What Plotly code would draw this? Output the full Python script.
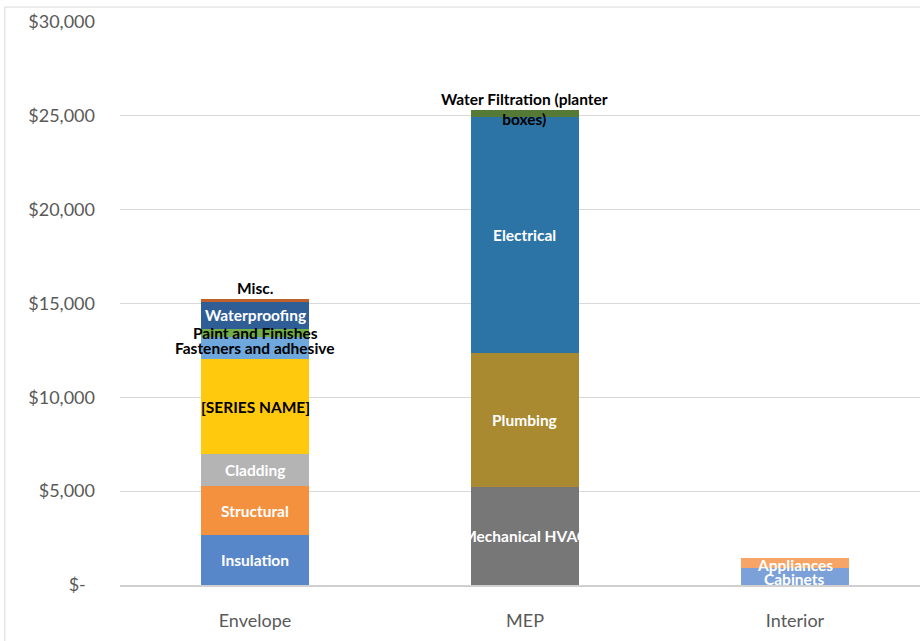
import plotly.graph_objects as go

categories = ["Envelope", "MEP", "Interior"]

series_names = [
    "Insulation", "Structural", "Cladding", "[SERIES NAME]",
    "Fasteners and adhesive", "Paint and Finishes", "Waterproofing", "Misc.",
    "Mechanical HVAC", "Plumbing", "Electrical", "Water Filtration (planter boxes)",
    "Cabinets", "Appliances",
]
series_category = [
    "Envelope", "Envelope", "Envelope", "Envelope",
    "Envelope", "Envelope", "Envelope", "Envelope",
    "MEP", "MEP", "MEP", "MEP",
    "Interior", "Interior",
]
series_values = [
    2650, 2620, 1710, 5050,
    1200, 420, 1450, 130,
    5220, 7140, 12560, 390,
    900, 560,
]
series_colors = [
    "#5787C9", "#F4913F", "#B4B4B4", "#FFC90D",
    "#6EA8DD", "#70AD47", "#2F5E97", "#C2602B",
    "#777777", "#A98A30", "#2C74A6", "#557A36",
    "#7CA1D8", "#F7A566",
]
label_colors = [
    "white", "white", "white", "black",
    "black", "black", "white", "black",
    "white", "white", "white", "black",
    "white", "white",
]
label_texts = [
    "Insulation", "Structural", "Cladding", "[SERIES NAME]",
    "Fasteners and adhesive", "Paint and Finishes", "Waterproofing", "Misc.",
    "Mechanical HVAC", "Plumbing", "Electrical", "Water Filtration (planter<br>boxes)",
    "Cabinets", "Appliances",
]
label_yshift = [0, 0, 0, 0, 0, 0, 0, 0, 0, 0, 0, 5, -2, -2]

y_ticks = [0, 5000, 10000, 15000, 20000, 25000, 30000]
y_ticktext = ["$-\u00a0\u00a0", "$5,000", "$10,000", "$15,000", "$20,000", "$25,000", "$30,000"]

fig = go.Figure()
for name, cat, val, col in zip(series_names, series_category, series_values, series_colors):
    fig.add_trace(go.Bar(
        x=[cat], y=[val], name=name, marker=dict(color=col, line=dict(width=0)),
        width=0.4, showlegend=False, hoverinfo="name+y",
    ))

# label annotations at segment centres
base = {c: 0 for c in categories}
annotations = []
for i, (cat, val) in enumerate(zip(series_category, series_values)):
    bottom = base[cat]
    top = bottom + val
    base[cat] = top
    if series_names[i] == "Misc.":
        ypos = top
        yanchor = "bottom"
    else:
        ypos = (bottom + top) / 2
        yanchor = "middle"
    ann = dict(
        x=cat, y=ypos, xref="x", yref="y", text=label_texts[i], showarrow=False,
        yanchor=yanchor, yshift=label_yshift[i],
        font=dict(family="Lato, Open Sans, sans-serif", size=15.5, weight="bold",
                  color=label_colors[i]),
    )
    if series_names[i] == "Mechanical HVAC":
        ann["width"] = 108
        ann["align"] = "center"
    annotations.append(ann)

shapes = [
    dict(type="line", xref="paper", yref="paper", x0=-0.144, x1=1.0, y0=1.0266, y1=1.0266,
         line=dict(color="#D9D9D9", width=1)),
    dict(type="line", xref="paper", yref="paper", x0=-0.144, x1=-0.144, y0=1.0266, y1=-0.11,
         line=dict(color="#D9D9D9", width=1)),
]

fig.update_layout(
    width=920, height=641,
    barmode="stack",
    plot_bgcolor="white", paper_bgcolor="white",
    margin=dict(l=120, r=0, t=22, b=56),
    annotations=annotations,
    shapes=shapes,
    bargap=0.6,
    font=dict(family="Lato, Open Sans, sans-serif", color="#595959"),
)
fig.update_xaxes(
    categoryorder="array", categoryarray=categories,
    range=[-0.5, 2.463],
    showline=True, linecolor="#D0D0D0", linewidth=1.5,
    ticks="", tickfont=dict(size=18, color="#595959"),
    ticklabelstandoff=19, showgrid=False,
)
fig.update_yaxes(
    range=[0, 30000], tickvals=y_ticks, ticktext=y_ticktext,
    showgrid=True, gridcolor="#D9D9D9", gridwidth=1,
    zeroline=False, ticks="", tickfont=dict(size=18, color="#595959"),
    ticklabelstandoff=24,
)

fig.write_html("out.html")
